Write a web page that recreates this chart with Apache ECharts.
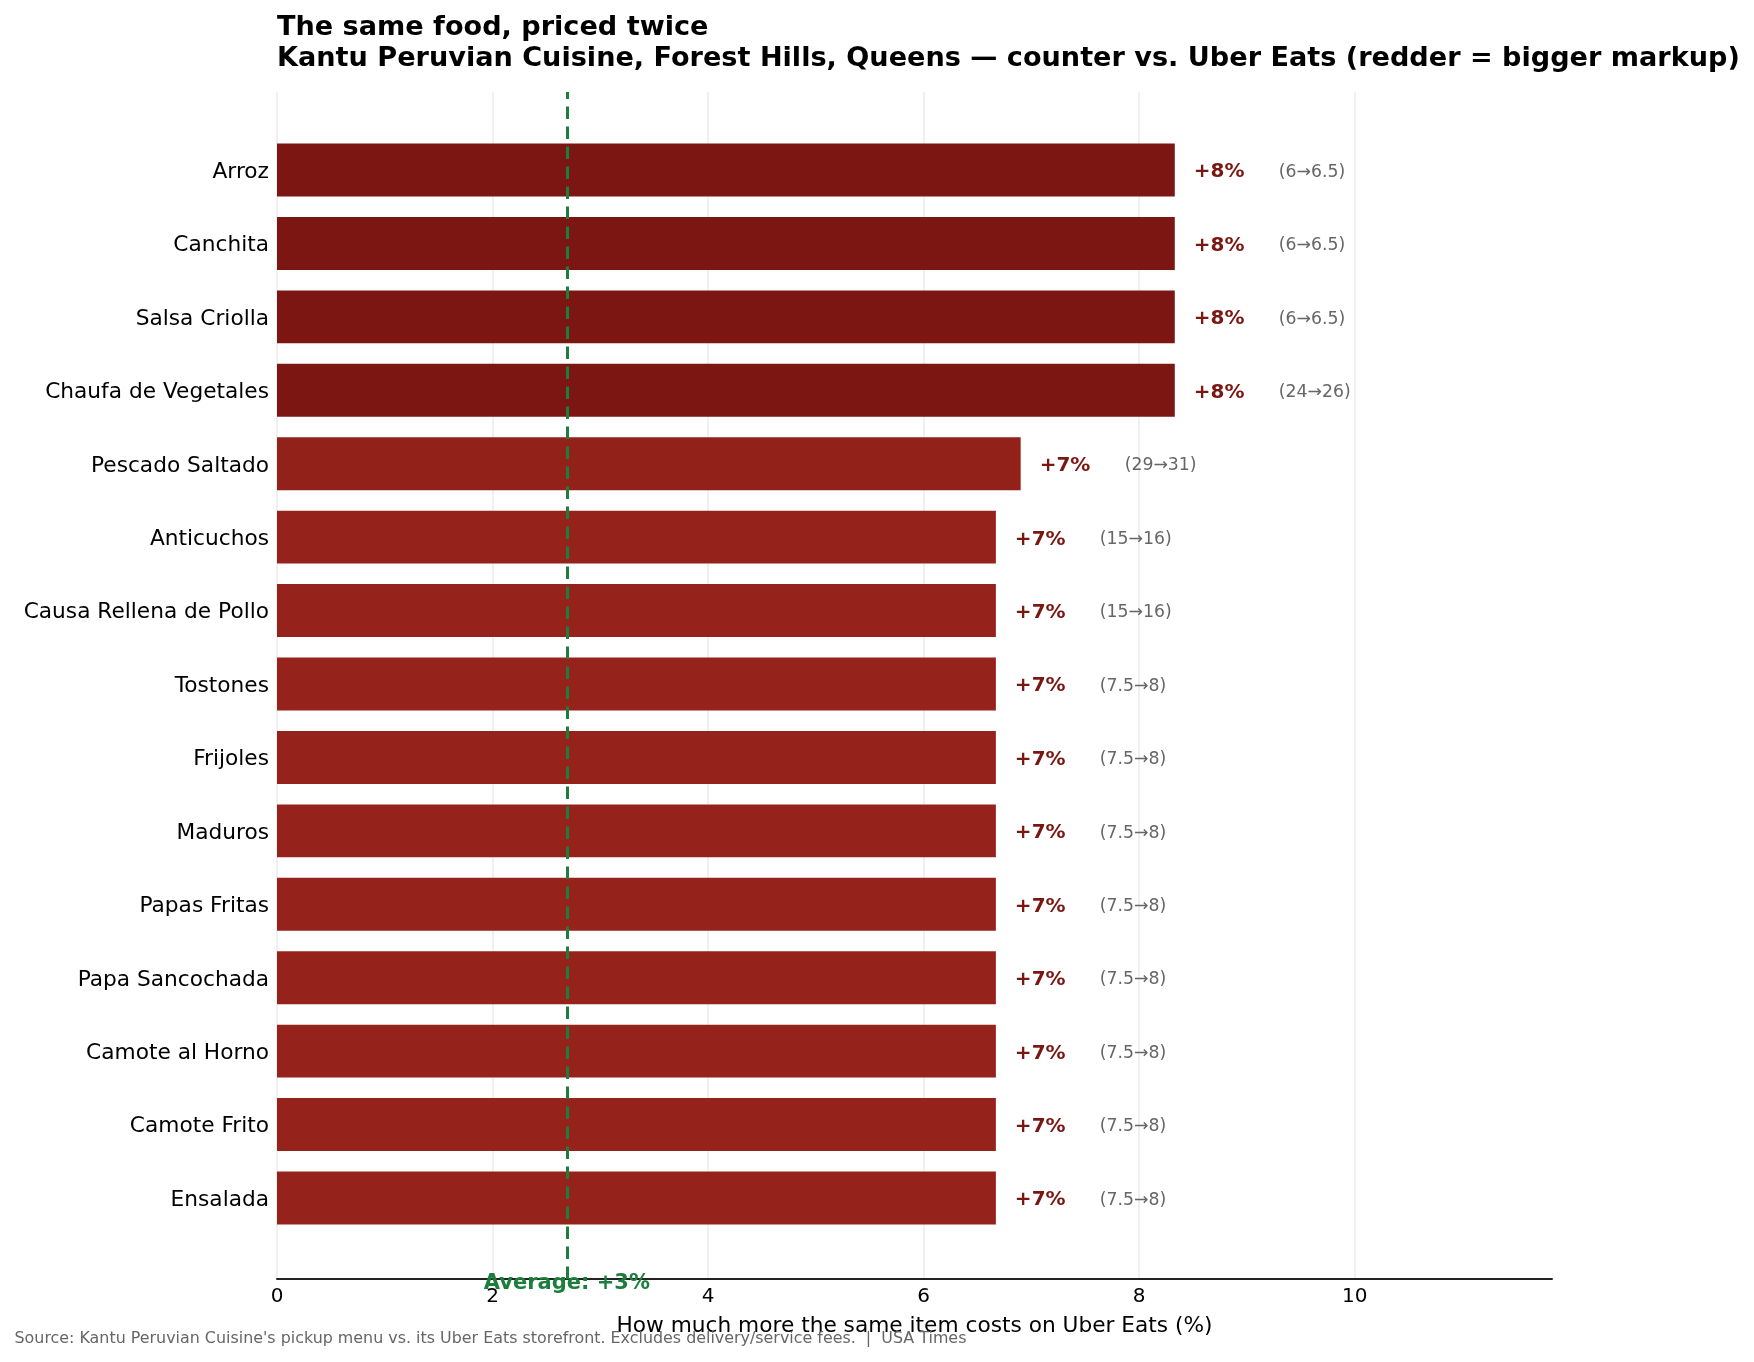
<!DOCTYPE html>
<html>
<head>
<meta charset="utf-8">
<script src="https://cdn.jsdelivr.net/npm/echarts@6/dist/echarts.min.js"></script>
<style>
html,body{margin:0;padding:0;background:#fff;}
#chart{width:1754px;height:1362px;}
</style>
</head>
<body>
<div id="chart"></div>
<script>
// ---- data ----
const items = ['Arroz','Canchita','Salsa Criolla','Chaufa de Vegetales','Pescado Saltado','Anticuchos','Causa Rellena de Pollo','Tostones','Frijoles','Maduros','Papas Fritas','Papa Sancochada','Camote al Horno','Camote Frito','Ensalada'];
const markupPct = [8.33,8.33,8.33,8.33,6.90,6.67,6.67,6.67,6.67,6.67,6.67,6.67,6.67,6.67,6.67];
const counterPrice = ['6','6','6','24','29','15','15','7.5','7.5','7.5','7.5','7.5','7.5','7.5','7.5'];
const uberPrice = ['6.5','6.5','6.5','26','31','16','16','8','8','8','8','8','8','8','8'];
const avgMarkup = 2.69;
const avgLabel = 'Average: +3%';
const xTicks = [0,2,4,6,8,10];

const FONT = 'DejaVu Sans';
const X_MAX = 11.83;

function barColor(v){
  // darker red for bigger markup
  const lo = [150,35,27], hi = [123,22,18];
  const t = Math.max(0, Math.min(1, (v - 6.67) / (8.33 - 6.67)));
  const c = lo.map((a,i)=>Math.round(a + (hi[i]-a)*t));
  return 'rgb(' + c.join(',') + ')';
}

const barData = markupPct.map((v,i)=>({
  value: v,
  itemStyle: {color: barColor(v)},
  label: {formatter: '{a|+' + Math.round(v) + '%}{b|(' + counterPrice[i] + '\u2192' + uberPrice[i] + ')}'}
}));

const chart = echarts.init(document.getElementById('chart'), null, {renderer:'canvas'});
chart.setOption({
  animation: false,
  backgroundColor: '#fff',
  textStyle: {fontFamily: FONT},
  title: [{
    text: 'The same food, priced twice\nKantu Peruvian Cuisine, Forest Hills, Queens \u2014 counter vs. Uber Eats (redder = bigger markup)',
    left: 277, top: 12, padding: 0,
    textStyle: {fontFamily: FONT, fontSize: 27.12, fontWeight: 'bold', color: '#000', lineHeight: 31}
  },{
    text: "Source: Kantu Peruvian Cuisine's pickup menu vs. its Uber Eats storefront. Excludes delivery/service fees.  |  USA Times",
    left: 14.5, top: 1331, padding: 0,
    textStyle: {fontFamily: FONT, fontSize: 15.9, fontWeight: 'normal', color: '#666'}
  }],
  grid: [
    {left: 277, top: 92, width: 1275, height: 1187},
    {left: 277, top: 133.3, width: 1275, height: 1101.4}
  ],
  xAxis: [{
    gridIndex: 0, type: 'value', min: 0, max: X_MAX, interval: 2,
    axisLine: {show: true, lineStyle: {color: '#222', width: 2}},
    axisTick: {show: false},
    axisLabel: {fontFamily: FONT, fontSize: 20, color: '#000', margin: 8,
      formatter: v => xTicks.indexOf(v) >= 0 ? String(v) : ''},
    splitLine: {show: true, showMaxLine: false, lineStyle: {color: '#ebebeb', width: 1.5}},
    name: 'How much more the same item costs on Uber Eats (%)',
    nameLocation: 'middle', nameGap: 36,
    nameTextStyle: {fontFamily: FONT, fontSize: 21.7, color: '#000'}
  },{
    gridIndex: 1, type: 'value', min: 0, max: X_MAX, show: false
  }],
  yAxis: [{
    gridIndex: 0, type: 'value', min: 0, max: 1, show: false
  },{
    gridIndex: 1, type: 'category', data: items, inverse: true,
    axisLine: {show: false}, axisTick: {show: false},
    axisLabel: {margin: 8, formatter: '{n|{value}}',
      rich: {n: {fontFamily: FONT, fontSize: 21.7, color: '#000', padding: [4.5,0,0,0]}}},
    splitLine: {show: false}
  }],
  series: [{
    type: 'bar', xAxisIndex: 1, yAxisIndex: 1, data: barData,
    barWidth: 52.9, z: 2,
    label: {
      show: true, position: 'right', distance: 19, padding: [4.5,0,0,0],
      rich: {
        a: {fontFamily: FONT, fontSize: 20, fontWeight: 'bold', color: '#7B1712', width: 85},
        b: {fontFamily: FONT, fontSize: 17.3, color: '#666'}
      }
    }
  },{
    type: 'line', xAxisIndex: 0, yAxisIndex: 0, data: [], z: 5,
    markLine: {
      silent: true, symbol: 'none', animation: false,
      lineStyle: {color: '#1b7f3b', type: [12.5, 7.5], width: 3},
      label: {show: true, position: 'start', formatter: avgLabel, distance: -6,
        fontFamily: FONT, fontSize: 21, fontWeight: 'bold', color: '#1b7f3b'},
      data: [{xAxis: avgMarkup}]
    }
  }]
});
</script>
</body>
</html>
